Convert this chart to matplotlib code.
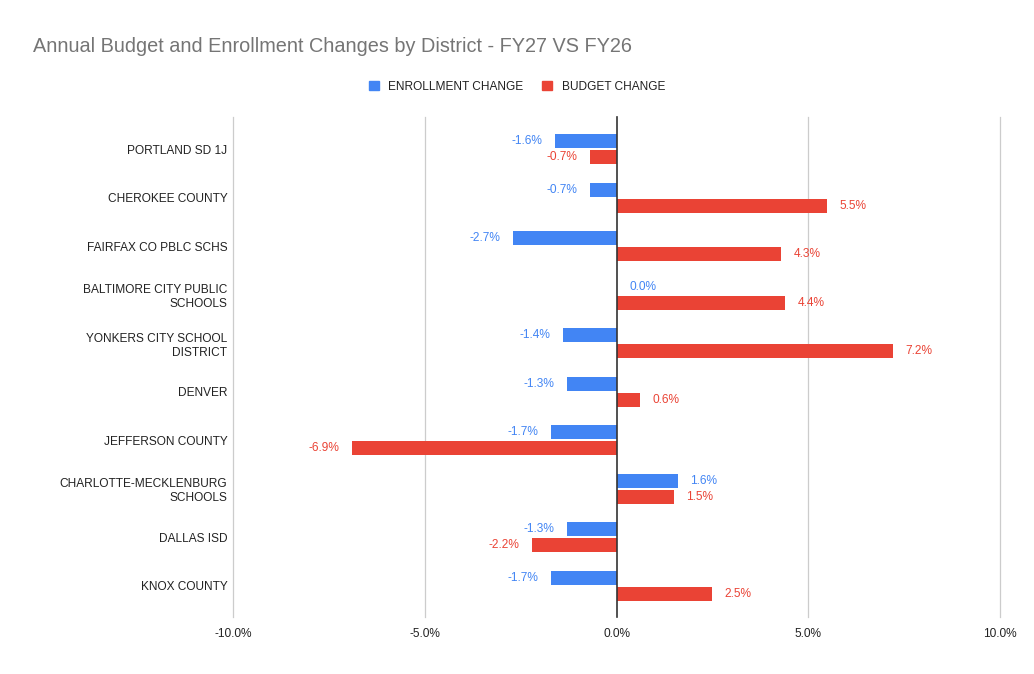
#! /usr/bin/env python3

#A program to plot the budget and enrollment changes by district.

import numpy as np
import matplotlib
matplotlib.use('Agg')
import matplotlib.pyplot as plt
from matplotlib.patches import Patch

#The data.
districts = ['PORTLAND SD 1J', 'CHEROKEE COUNTY', 'FAIRFAX CO PBLC SCHS',
             'BALTIMORE CITY PUBLIC\nSCHOOLS', 'YONKERS CITY SCHOOL\nDISTRICT',
             'DENVER', 'JEFFERSON COUNTY', 'CHARLOTTE-MECKLENBURG\nSCHOOLS',
             'DALLAS ISD', 'KNOX COUNTY']
enrollmentChange = [-1.6, -0.7, -2.7, 0.0, -1.4, -1.3, -1.7, 1.6, -1.3, -1.7]
budgetChange = [-0.7, 5.5, 4.3, 4.4, 7.2, 0.6, -6.9, 1.5, -2.2, 2.5]
seriesNames = ['ENROLLMENT CHANGE', 'BUDGET CHANGE']
xTicks = [-10, -5, 0, 5, 10]

##################################################################################

##################################################################################

def labelBars(ax, y, values, color) :

  #Put the value just past the end of each bar.
  for yy, v in zip(y, values) :
    if(v < 0) :
      ax.annotate('%.1f%%' % v, (v, yy), xytext = (-9, 0), textcoords = 'offset points',
                  ha = 'right', va = 'center', fontsize = 8.6, color = color)
    else :
      ax.annotate('%.1f%%' % v, (v, yy), xytext = (9, 0), textcoords = 'offset points',
                  ha = 'left', va = 'center', fontsize = 8.6, color = color)
    #End of if-else clause.
  #End of for loop - for yy, v in zip(y, values) :
#End of the function labelBars.

##################################################################################

##################################################################################

def plotChanges(outfile) :

  plt.rcParams['font.family'] = ['Liberation Sans', 'DejaVu Sans']

  blue = '#4285F4'
  red = '#EA4335'

  fig = plt.figure(figsize = (10.34, 6.74), dpi = 100)
  ax = fig.add_axes([233/1034, 1 - 617/674, 767/1034, 500/674])

  y = np.arange(len(districts))
  barH = 0.29
  off = 0.165

  ax.barh(y - off, enrollmentChange, height = barH, color = blue, zorder = 3)
  ax.barh(y + off, budgetChange, height = barH, color = red, zorder = 3)

  labelBars(ax, y - off, enrollmentChange, blue)
  labelBars(ax, y + off, budgetChange, red)

  #Axes setup.
  ax.set_xlim(-10, 10)
  ax.set_ylim(9.64, -0.66)
  ax.set_xticks(xTicks)
  ax.set_xticklabels(['%.1f%%' % t for t in xTicks])
  ax.set_yticks(y)
  ax.set_yticklabels(districts, ha = 'right')
  ax.tick_params(axis = 'both', length = 0, labelsize = 8.6, colors = '#222222')
  ax.tick_params(axis = 'x', pad = 8)
  ax.tick_params(axis = 'y', pad = 4)
  for s in ax.spines.values() :
    s.set_visible(False)
  #End of for loop.

  #Gridlines, with the zero line darker.  Do not clip them at the edges.
  for t in xTicks :
    if(t == 0) :
      ax.axvline(0, color = '#333333', lw = 1.2, zorder = 4, clip_on = False)
    else :
      ax.axvline(t, color = '#cccccc', lw = 0.9, zorder = 1, clip_on = False)
    #End of if-else clause.
  #End of for loop - for t in xTicks :

  #Title and legend.
  fig.text(33/1034, 1 - 47/674, 'Annual Budget and Enrollment Changes by District - FY27 VS FY26',
           ha = 'left', va = 'center', fontsize = 14.3, color = '#757575')
  handles = [Patch(color = blue, label = seriesNames[0]),
             Patch(color = red, label = seriesNames[1])]
  fig.legend(handles = handles, loc = 'center', bbox_to_anchor = (517/1034, 1 - 87/674),
             ncol = 2, frameon = False, fontsize = 8.6, handlelength = 0.8,
             handleheight = 0.8, handletextpad = 0.8, columnspacing = 1.6,
             labelcolor = '#222222')

  fig.savefig(outfile, dpi = 100, facecolor = 'white')
  plt.close(fig)
#End of the function plotChanges.

##################################################################################

##################################################################################

def main() :
  plotChanges('out.png')

if __name__ == '__main__':
  main()
